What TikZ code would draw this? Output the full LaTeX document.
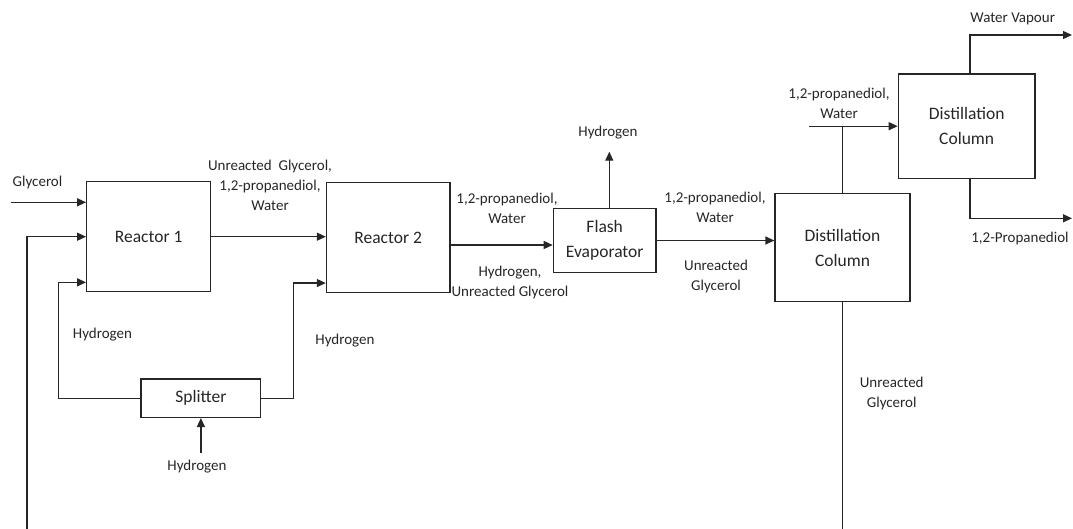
\documentclass[tikz,border=0pt]{standalone}
\usepackage{fontspec}
\setmainfont{Carlito}
\usetikzlibrary{arrows.meta,calc}
\definecolor{ink}{HTML}{262626}
\tikzset{
  unit/.style={draw=ink, line width=1.3pt, inner sep=0pt, align=center,
    text=ink, font=\fontsize{17.5}{25}\selectfont},
  flow/.style={draw=ink, line width=1.3pt},
  arr/.style={flow, -{Triangle[length=9pt,width=8pt]}},
  lbl/.style={inner sep=0pt, align=center, text=ink,
    font=\fontsize{15}{20}\selectfont}
}
\begin{document}
\begin{tikzpicture}[x=1pt,y=-1pt]
\useasboundingbox (0,0) rectangle (1073,529);

% process units
\node[unit, minimum width=124pt, minimum height=110pt] (r1) at (148.7,236.7) {Reactor 1};
\node[unit, minimum width=123.5pt, minimum height=110pt] (r2) at (388.2,237.4) {Reactor 2};
\node[unit, minimum width=119.7pt, minimum height=38.3pt] (split) at (200.9,398.2) {Splitter};
\node[unit, minimum width=102.7pt, minimum height=64.4pt] (flash) at (604.7,240.5) {Flash\\Evaporator};
\node[unit, minimum width=135pt, minimum height=108.4pt] (d1) at (842.5,247.5) {Distillation\\Column};
\node[unit, minimum width=136.7pt, minimum height=104.3pt] (d2) at (966.7,126.2) {Distillation\\Column};

% free stream ends
\coordinate (gin) at (11,202.3);
\coordinate (recl) at (27,529);
\coordinate (recr) at (842.5,529);
\coordinate (hin) at (200.9,453);
\coordinate (hout) at (609.3,151.7);
\coordinate (d2in) at (809.3,126.2);
\coordinate (wv) at (1072,35);
\coordinate (pd) at (1072,218.3);
\coordinate (fw) at ($(flash.west)+(0,4.5)$);

% streams
\draw[arr] (gin) -- (gin -| r1.west);
\draw[arr] (recl) |- (r1.west);
\draw[arr] (split.west) -- ++(-82,0) |- ($(r1.south west)+(0,-10)$);
\draw[arr] (split.east) -- ++(32,0) |- ($(r2.south west)+(0,-10)$);
\draw[arr] (hin) -- (split.south);
\draw[arr] (r1.east) -- (r1.east -| r2.west);
\draw[arr] (r2.east |- fw) -- (fw);
\draw[arr] (flash.north -| hout) -- (hout);
\draw[arr] (flash.east) -- (flash.east -| d1.west);
\draw[flow] (d1.north) -- (d1.north |- d2.west);
\draw[arr] (d2in) -- (d2.west);
\draw[arr] ($(d2.north)+(3.3,0)$) |- (wv);
\draw[arr] ($(d2.south)+(3.3,0)$) |- (pd);
\draw[flow] (d1.south) -- (recr);

% stream labels
\node[lbl] (lgly) at (37.5,183) {Glycerol};
\node[lbl] (lr1out) at (270,185) {Unreacted\ \ Glycerol,\\1,2-propanediol,\\Water};
\node[lbl] (lh1) at (102.5,335) {Hydrogen};
\node[lbl] (lh2) at (345,341) {Hydrogen};
\node[lbl] (lh3) at (197,467) {Hydrogen};
\node[lbl] (lr2a) at (507,208.7) {1,2-propanediol,\\Water};
\node[lbl] (lr2b) at (510,282.7) {Hydrogen,\\Unreacted Glycerol};
\node[lbl] (lh4) at (608,132.3) {Hydrogen};
\node[lbl] (lfa) at (715,207.7) {1,2-propanediol,\\Water};
\node[lbl] (lfb) at (716,276.7) {Unreacted\\Glycerol};
\node[lbl] (ld1top) at (839,103.8) {1,2-propanediol,\\Water};
\node[lbl] (lwv) at (1012.7,19) {Water Vapour};
\node[lbl] (lpd) at (1020,238.3) {1,2-Propanediol};
\node[lbl] (ld1bot) at (891.7,393) {Unreacted\\Glycerol};
\end{tikzpicture}
\end{document}
